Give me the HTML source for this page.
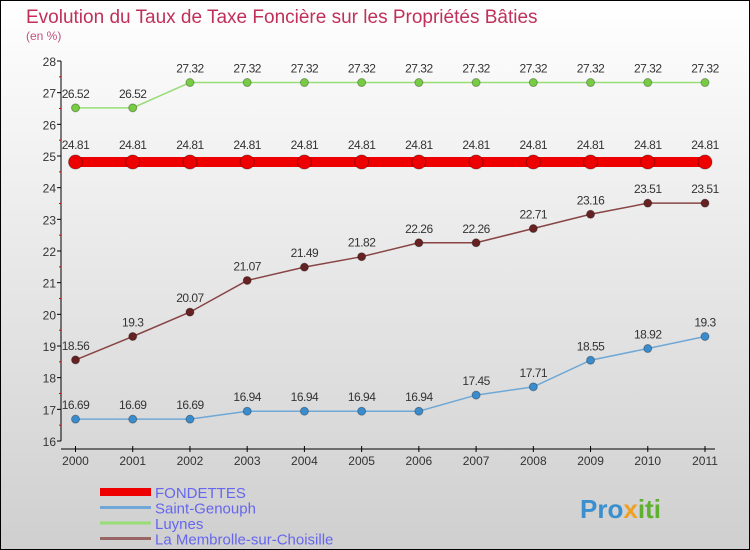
<!DOCTYPE html>
<html><head><meta charset="utf-8"><style>
body{margin:0}
#c{width:750px;height:550px;position:relative;overflow:hidden}
svg text{font-family:"Liberation Sans",sans-serif}
</style></head><body>
<div id="c">
<svg id="s" width="750" height="550" xmlns="http://www.w3.org/2000/svg">
<defs><linearGradient id="bg" x1="0" y1="0" x2="0" y2="1"><stop offset="0" stop-color="#ffffff"/><stop offset="1" stop-color="#cfcfcf"/></linearGradient></defs>
<rect x="0.5" y="0.5" width="749" height="549" fill="url(#bg)" stroke="#000"/>
<text x="26" y="23" font-size="19" fill="#c0305a">Evolution du Taux de Taxe Foncière sur les Propriétés Bâties</text>
<text x="26" y="40" font-size="12" fill="#c0507a">(en %)</text>
<g id="axes"></g><g id="series"></g><g id="legend"></g>
<text x="580" y="518" font-size="26" font-weight="bold" fill="#3a8fd0">Pro<tspan fill="#f0a020">x</tspan><tspan fill="#60b030">iti</tspan></text>
</svg></div>
<script>
const years=["2000","2001","2002","2003","2004","2005","2006","2007","2008","2009","2010","2011"];
const fondettes=[24.81,24.81,24.81,24.81,24.81,24.81,24.81,24.81,24.81,24.81,24.81,24.81];
const genouph=[16.69,16.69,16.69,16.94,16.94,16.94,16.94,17.45,17.71,18.55,18.92,19.3];
const luynes=[26.52,26.52,27.32,27.32,27.32,27.32,27.32,27.32,27.32,27.32,27.32,27.32];
const membrolle=[18.56,19.3,20.07,21.07,21.49,21.82,22.26,22.26,22.71,23.16,23.51,23.51];
const yTicks=[16,17,18,19,20,21,22,23,24,25,26,27,28];
const seriesNames=["FONDETTES","Saint-Genouph","Luynes","La Membrolle-sur-Choisille"];
const NS="http://www.w3.org/2000/svg";
const X=i=>75.5+i*(705-75.5)/(years.length-1);
const Y=v=>441-(v-16)*(441-61)/12;
function mk(t,a,p){const e=document.createElementNS(NS,t);for(const k in a)e.setAttribute(k,a[k]);p.appendChild(e);return e;}
const ax=document.getElementById('axes');
let yl=mk('line',{x1:61,y1:Y(28),x2:61,y2:Y(16),stroke:'#000'},ax);


yTicks.forEach(v=>{
 mk('line',{x1:57,y1:Y(v),x2:61,y2:Y(v),stroke:'#000'},ax);
 if(v<28)mk('line',{x1:59,y1:Y(v+0.5),x2:61,y2:Y(v+0.5),stroke:'#e00000'},ax);
 let t=mk('text',{x:56,y:Y(v)+5,'font-size':12,fill:'#333','text-anchor':'end'},ax);t.textContent=v;
 
 
});
let xl=mk('line',{x1:61,y1:449,x2:715,y2:449,stroke:'#000'},ax);


years.forEach((y,i)=>{
 mk('line',{x1:X(i),y1:446,x2:X(i),y2:452,stroke:'#000'},ax);
 let t=mk('text',{x:X(i),y:465,'font-size':12,fill:'#333','text-anchor':'middle'},ax);t.textContent=y;
 
 
});
const sg=document.getElementById('series');
function draw(vals,color,dot,lw,r,name){
 const g=mk('g',{},sg);
 
 
 mk('polyline',{points:vals.map((v,i)=>X(i)+','+Y(v)).join(' '),fill:'none',stroke:color,'stroke-width':lw},g);
 vals.forEach((v,i)=>{
  const c=mk('circle',{cx:X(i),cy:Y(v),r:r,fill:dot,stroke:'rgba(0,0,0,0.3)','stroke-width':1},g);
  
  
  const t=mk('text',{x:X(i),y:Y(v)-(r+6),'font-size':12,fill:'#333','text-anchor':'middle','letter-spacing':'-0.5'},g);
  t.textContent=v;
 });
}
draw(luynes,'#99dd77','#77cc44',1.5,4,'series-luynes');
draw(fondettes,'#ee0000','#ee0000',10,7,'series-fondettes');
draw(membrolle,'#884444','#662222',1.5,4,'series-membrolle');
draw(genouph,'#6fa8d6','#3a8ccc',1.5,4,'series-saint-genouph');
const lg=document.getElementById('legend');
const lc=['#ee0000','#6fa8d6','#99dd77','#996666'];const lw=[8,3,3,3];
seriesNames.forEach((n,i)=>{
 const y=492+i*15.5;
 const l=mk('line',{x1:100,y1:y,x2:151,y2:y,stroke:lc[i],'stroke-width':lw[i]},lg);
 
 
 const t=mk('text',{x:155,y:y+6,'font-size':15,fill:'#6666ee'},lg);t.textContent=n;
 
 
});
</script>
</body></html>
